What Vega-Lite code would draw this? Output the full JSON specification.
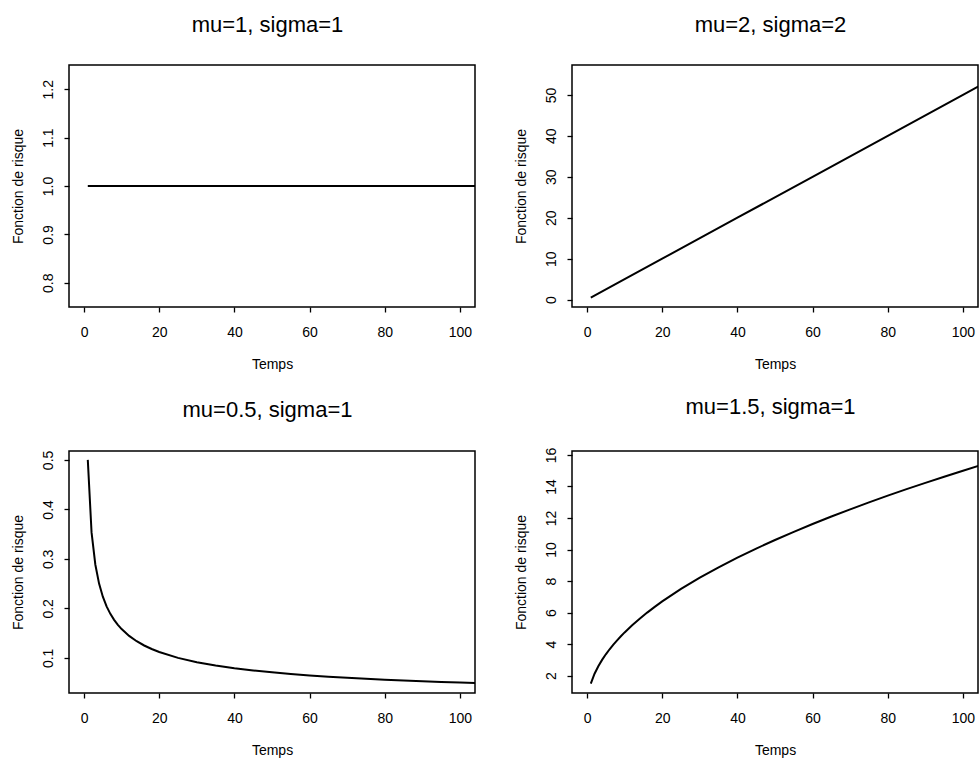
{
  "$schema": "https://vega.github.io/schema/vega-lite/v6.json",
  "autosize": {"type": "pad"},
  "padding": {"left": 10, "top": 12, "right": 0, "bottom": 0},
  "background": "white",
  "datasets": {
    "p1": [{"t": 1, "h": 1}, {"t": 20, "h": 1}, {"t": 40, "h": 1}, {"t": 60, "h": 1}, {"t": 80, "h": 1}, {"t": 100, "h": 1}, {"t": 110, "h": 1}],
    "p2": [{"t": 1, "h": 0.5}, {"t": 10, "h": 5}, {"t": 20, "h": 10}, {"t": 40, "h": 20}, {"t": 60, "h": 30}, {"t": 80, "h": 40}, {"t": 100, "h": 50}, {"t": 110, "h": 55}],
    "p3": [{"t": 1, "h": 0.5}, {"t": 2, "h": 0.35355}, {"t": 3, "h": 0.28868}, {"t": 4, "h": 0.25}, {"t": 5, "h": 0.22361}, {"t": 6, "h": 0.20412}, {"t": 7, "h": 0.18898}, {"t": 8, "h": 0.17678}, {"t": 9, "h": 0.16667}, {"t": 10, "h": 0.15811}, {"t": 12, "h": 0.14434}, {"t": 14, "h": 0.13363}, {"t": 16, "h": 0.125}, {"t": 18, "h": 0.11785}, {"t": 20, "h": 0.1118}, {"t": 25, "h": 0.1}, {"t": 30, "h": 0.09129}, {"t": 35, "h": 0.08452}, {"t": 40, "h": 0.07906}, {"t": 45, "h": 0.07454}, {"t": 50, "h": 0.07071}, {"t": 55, "h": 0.06742}, {"t": 60, "h": 0.06455}, {"t": 65, "h": 0.06202}, {"t": 70, "h": 0.05976}, {"t": 75, "h": 0.05774}, {"t": 80, "h": 0.0559}, {"t": 85, "h": 0.05423}, {"t": 90, "h": 0.0527}, {"t": 95, "h": 0.0513}, {"t": 100, "h": 0.05}, {"t": 105, "h": 0.0488}, {"t": 110, "h": 0.04767}],
    "p4": [{"t": 1, "h": 1.5}, {"t": 2, "h": 2.12132}, {"t": 3, "h": 2.59808}, {"t": 4, "h": 3}, {"t": 5, "h": 3.3541}, {"t": 6, "h": 3.67423}, {"t": 7, "h": 3.96863}, {"t": 8, "h": 4.24264}, {"t": 9, "h": 4.5}, {"t": 10, "h": 4.74342}, {"t": 12, "h": 5.19615}, {"t": 14, "h": 5.61249}, {"t": 16, "h": 6}, {"t": 18, "h": 6.36396}, {"t": 20, "h": 6.7082}, {"t": 25, "h": 7.5}, {"t": 30, "h": 8.21584}, {"t": 35, "h": 8.87412}, {"t": 40, "h": 9.48683}, {"t": 45, "h": 10.06231}, {"t": 50, "h": 10.6066}, {"t": 55, "h": 11.1243}, {"t": 60, "h": 11.61895}, {"t": 65, "h": 12.09339}, {"t": 70, "h": 12.5499}, {"t": 75, "h": 12.99038}, {"t": 80, "h": 13.41641}, {"t": 85, "h": 13.82931}, {"t": 90, "h": 14.23025}, {"t": 95, "h": 14.62019}, {"t": 100, "h": 15}, {"t": 105, "h": 15.37043}, {"t": 110, "h": 15.73213}]
  },
  "columns": 2,
  "bounds": "flush",
  "spacing": {"row": 144, "column": 97},
  "concat": [
    {
      "title": "mu=1, sigma=1",
      "width": 406, "height": 242,
      "data": {"name": "p1"},
      "mark": {"type": "line", "clip": true, "color": "black", "strokeWidth": 2},
      "encoding": {
        "x": {"field": "t", "type": "quantitative", "title": "Temps", "scale": {"domain": [-4, 104], "nice": false, "zero": false}, "axis": {"values": [0, 20, 40, 60, 80, 100]}},
        "y": {"field": "h", "type": "quantitative", "title": "Fonction de risque", "scale": {"domain": [0.75, 1.25], "nice": false, "zero": false}, "axis": {"values": [0.8, 0.9, 1.0, 1.1, 1.2], "format": ".1f"}}
      }
    },
    {
      "title": "mu=2, sigma=2",
      "width": 406, "height": 242,
      "data": {"name": "p2"},
      "mark": {"type": "line", "clip": true, "color": "black", "strokeWidth": 2},
      "encoding": {
        "x": {"field": "t", "type": "quantitative", "title": "Temps", "scale": {"domain": [-4, 104], "nice": false, "zero": false}, "axis": {"values": [0, 20, 40, 60, 80, 100]}},
        "y": {"field": "h", "type": "quantitative", "title": "Fonction de risque", "scale": {"domain": [-1.8, 57.3], "nice": false, "zero": false}, "axis": {"values": [0, 10, 20, 30, 40, 50]}}
      }
    },
    {
      "title": "mu=0.5, sigma=1",
      "width": 406, "height": 242,
      "data": {"name": "p3"},
      "mark": {"type": "line", "clip": true, "color": "black", "strokeWidth": 2},
      "encoding": {
        "x": {"field": "t", "type": "quantitative", "title": "Temps", "scale": {"domain": [-4, 104], "nice": false, "zero": false}, "axis": {"values": [0, 20, 40, 60, 80, 100]}},
        "y": {"field": "h", "type": "quantitative", "title": "Fonction de risque", "scale": {"domain": [0.029, 0.518], "nice": false, "zero": false}, "axis": {"values": [0.1, 0.2, 0.3, 0.4, 0.5], "format": ".1f"}}
      }
    },
    {
      "title": "mu=1.5, sigma=1",
      "width": 406, "height": 242,
      "data": {"name": "p4"},
      "mark": {"type": "line", "clip": true, "color": "black", "strokeWidth": 2},
      "encoding": {
        "x": {"field": "t", "type": "quantitative", "title": "Temps", "scale": {"domain": [-4, 104], "nice": false, "zero": false}, "axis": {"values": [0, 20, 40, 60, 80, 100]}},
        "y": {"field": "h", "type": "quantitative", "title": "Fonction de risque", "scale": {"domain": [0.9, 16.25], "nice": false, "zero": false}, "axis": {"values": [2, 4, 6, 8, 10, 12, 14, 16]}}
      }
    }
  ],
  "config": {
    "view": {"stroke": "black", "strokeWidth": 1.5},
    "axis": {
      "grid": false, "domain": false,
      "tickColor": "black", "tickSize": 5, "tickWidth": 1.3,
      "labelFont": "Liberation Sans", "labelFontSize": 14, "labelColor": "black",
      "labelFlush": false, "labelOverlap": false,
      "titleFont": "Liberation Sans", "titleFontSize": 14, "titleFontWeight": "normal", "titleColor": "black"
    },
    "axisX": {"labelBaseline": "alphabetic", "labelPadding": 24.5, "titleBaseline": "alphabetic", "titleY": 61.6},
    "axisY": {"labelAngle": -90, "labelAlign": "center", "labelBaseline": "alphabetic", "labelPadding": 11.5, "titleBaseline": "alphabetic", "titleX": -47},
    "title": {"font": "Liberation Sans", "fontSize": 22, "fontWeight": "normal", "color": "black", "baseline": "alphabetic", "offset": 28.5, "dx": -4.5}
  }
}
